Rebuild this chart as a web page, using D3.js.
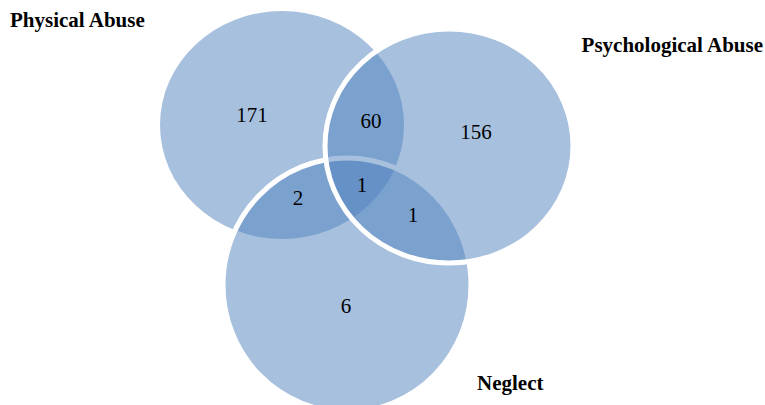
<!DOCTYPE html>
<html>
<head>
<meta charset="utf-8">
<script src="https://cdn.jsdelivr.net/npm/d3@7"></script>
<style>
  html, body { margin: 0; padding: 0; background: #ffffff; }
  svg { display: block; }
</style>
</head>
<body>
<svg id="chart" width="765" height="405"></svg>
<script>
// Abuse categories and the case counts in each Venn region
const sets = ["Physical Abuse", "Neglect", "Psychological Abuse"];
const regionKeys = ["P", "S", "N", "P&S", "P&N", "S&N", "P&S&N"];
const regionCounts = [171, 156, 6, 60, 2, 1, 1];

// Drawing geometry (SVG units): one ellipse per set, drawn in this order
const ellipseLayout = {
  "Physical Abuse":      { cx: 282, cy: 125, rx: 122, ry: 114, stroke: false },
  "Neglect":             { cx: 347, cy: 285, rx: 124, ry: 127, stroke: true },
  "Psychological Abuse": { cx: 449, cy: 146, rx: 124, ry: 117, stroke: true }
};
const setLabelLayout = {
  "Physical Abuse":      { x: 10,  y: 27, anchor: "start" },
  "Psychological Abuse": { x: 763, y: 52, anchor: "end" },
  "Neglect":             { x: 477, y: 390, anchor: "start" }
};
const regionLabelLayout = {
  "P":     { x: 252, y: 122 },
  "S":     { x: 476, y: 139 },
  "N":     { x: 346, y: 313 },
  "P&S":   { x: 371, y: 128 },
  "P&N":   { x: 298, y: 205 },
  "S&N":   { x: 413, y: 222 },
  "P&S&N": { x: 362, y: 192 }
};

const svg = d3.select("#chart");
const fill = "#4F81BD";

svg.append("g")
  .selectAll("ellipse")
  .data(sets)
  .join("ellipse")
  .attr("cx", d => ellipseLayout[d].cx)
  .attr("cy", d => ellipseLayout[d].cy)
  .attr("rx", d => ellipseLayout[d].rx)
  .attr("ry", d => ellipseLayout[d].ry)
  .attr("fill", fill)
  .attr("fill-opacity", 0.5)
  .attr("stroke", d => ellipseLayout[d].stroke ? "#ffffff" : "none")
  .attr("stroke-width", 5);

svg.append("g")
  .selectAll("text")
  .data(regionKeys.map((k, i) => ({ key: k, value: regionCounts[i] })))
  .join("text")
  .attr("x", d => regionLabelLayout[d.key].x)
  .attr("y", d => regionLabelLayout[d.key].y)
  .attr("text-anchor", "middle")
  .attr("font-family", "'Liberation Serif', 'Times New Roman', serif")
  .attr("font-size", 21)
  .attr("fill", "#000")
  .text(d => d.value);

svg.append("g")
  .selectAll("text")
  .data(sets)
  .join("text")
  .attr("x", d => setLabelLayout[d].x)
  .attr("y", d => setLabelLayout[d].y)
  .attr("text-anchor", d => setLabelLayout[d].anchor)
  .attr("font-family", "'Liberation Serif', 'Times New Roman', serif")
  .attr("font-weight", "bold")
  .attr("font-size", 21)
  .attr("fill", "#000")
  .text(d => d);
</script>
</body>
</html>
